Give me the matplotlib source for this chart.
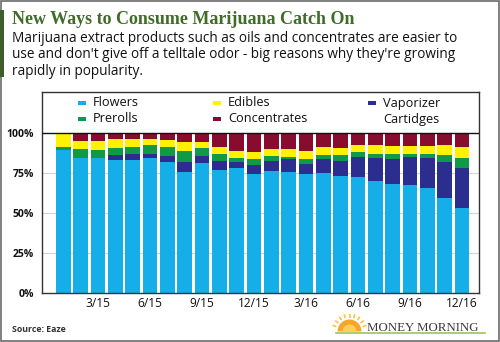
import matplotlib
matplotlib.use("Agg")
import matplotlib.pyplot as plt
import numpy as np
from matplotlib.patches import Rectangle, Wedge


months = ["1/15", "2/15", "3/15", "4/15", "5/15", "6/15", "7/15", "8/15",
          "9/15", "10/15", "11/15", "12/15", "1/16", "2/16", "3/16", "4/16",
          "5/16", "6/16", "7/16", "8/16", "9/16", "10/16", "11/16", "12/16"]
tick_labels = ["3/15", "6/15", "9/15", "12/15", "3/16", "6/16", "9/16", "12/16"]

# share of sales, percent (bottom to top of each stack)
flowers = [89.5, 84.5, 84.5, 83.3, 83.3, 84.2, 81.7, 75.8, 81.0, 76.9, 77.9, 74.2,
           76.2, 75.8, 74.2, 74.8, 73.3, 72.5, 70.2, 67.9, 67.5, 65.8, 59.2, 53.3]
vaporizer = [0.0, 0.0, 0.0, 3.0, 3.3, 2.9, 3.9, 6.3, 4.6, 5.8, 4.2, 5.8,
             6.3, 7.9, 6.6, 8.9, 9.2, 12.7, 14.0, 15.8, 17.5, 18.4, 22.9, 24.6]
prerolls = [1.5, 5.2, 5.0, 4.6, 4.6, 5.2, 5.4, 6.6, 4.8, 4.0, 2.5, 3.7,
            3.3, 1.5, 2.9, 2.5, 3.7, 3.1, 2.7, 2.9, 1.9, 2.5, 4.2, 6.2]
edibles = [9.0, 5.2, 5.5, 5.4, 5.0, 4.0, 4.8, 5.4, 3.8, 4.3, 4.4, 4.6,
           4.0, 4.6, 5.0, 5.0, 4.2, 4.2, 5.6, 5.4, 5.2, 5.4, 6.2, 6.9]
concentrates = [0.0, 5.1, 5.0, 3.7, 3.8, 3.7, 4.2, 5.9, 5.8, 9.0, 11.0, 11.7,
                10.2, 10.2, 11.3, 8.8, 9.6, 7.5, 7.5, 8.0, 7.9, 7.9, 7.5, 9.0]

FONT = "Open Sans"
BLUE = "#15aee9"
NAVY = "#2b2e8e"
GREEN = "#0f9a47"
YELLOW = "#fff200"
RED = "#880c2e"

series = [
    (flowers, BLUE),
    (vaporizer, NAVY),
    (prerolls, GREEN),
    (edibles, YELLOW),
    (concentrates, RED),
]

fig = plt.figure(figsize=(5, 3.42), dpi=100)
fig.patch.set_facecolor("white")

# main chart
ax = fig.add_axes([42 / 500, 1 - 293 / 342, 437 / 500, 201 / 342])
x = np.arange(len(months))
bottom = np.zeros(len(months))
for values, color in series:
    ax.bar(x, values, width=0.84, bottom=bottom, color=color, lw=0, zorder=2)
    bottom += np.array(values)

ax.set_xlim(-1.23, 23.98)
ax.set_ylim(0, 125.6)
ax.axhline(100, color="#111111", lw=1, zorder=3)
for g in [25, 50, 75]:
    ax.axhline(g, color="#d4d4d4", lw=0.8, zorder=1)

ax.set_yticks([0, 25, 50, 75, 100])
ax.set_yticklabels(["0%", "25%", "50%", "75%", "100%"], family=FONT,
                   fontweight="bold", fontsize=7.5, color="#111111")
ax.set_xticks([months.index(m) for m in tick_labels])
ax.set_xticklabels(tick_labels, family=FONT, fontsize=8.6, color="#111111")
ax.tick_params(length=0, axis="y", pad=6)
ax.tick_params(length=0, axis="x", pad=3)
for s in ax.spines.values():
    s.set_color("#333333")
    s.set_linewidth(1)

# transparent pixel canvas on top for the decorations around the chart
canvas = fig.add_axes([0, 0, 1, 1], zorder=5)
canvas.set_xlim(0, 500)
canvas.set_ylim(342, 0)
canvas.axis("off")

# outer frame and title accent
canvas.add_patch(Rectangle((0.5, 0.5), 498.5, 340.5, fill=False, ec="#6b6b6b", lw=1.2))
canvas.add_patch(Rectangle((0, 10), 3.5, 67, color="#3d5e2a", lw=0))

canvas.text(12, 24, "New Ways to Consume Marijuana Catch On", family="Liberation Serif",
            fontweight="bold", fontsize=13, color="#3f6d28", va="baseline")
subtitle = [
    "Marijuana extract products such as oils and concentrates are easier to",
    "use and don't give off a telltale odor - big reasons why they're growing",
    "rapidly in popularity.",
]
for i, line in enumerate(subtitle):
    canvas.text(12, 41.5 + i * 16.7, line, family=FONT, fontsize=9.85,
                color="#111111", va="baseline")

# legend
legend_items = [
    ("Flowers", BLUE, 78, 103),
    ("Prerolls", GREEN, 78, 119),
    ("Edibles", YELLOW, 213, 103),
    ("Concentrates", RED, 213, 119),
    ("Vaporizer", NAVY, 368, 103),
]
for label, color, lx, ly in legend_items:
    canvas.add_patch(Rectangle((lx, ly - 1.7), 8, 3.4, color=color, lw=0))
    canvas.text(lx + 15, ly, label, family=FONT, fontsize=9.2, color="#111111",
                va="center")
canvas.text(383, 119, "Cartidges", family=FONT, fontsize=9.2, color="#111111",
            va="center")

# footer
canvas.text(12, 330, "Source: Eaze", family=FONT, fontweight="bold", fontsize=6.3,
            color="#333333", va="center")

# Money Morning logo
canvas.plot([336, 485], [332.5, 332.5], color="#a3c86a", lw=1.3)
canvas.add_patch(Wedge((349.5, 331.5), 12, 180, 360, color="#f6a72a", lw=0))
canvas.add_patch(Wedge((349.5, 331.5), 7, 180, 360, color="#fbd05a", lw=0))
for ang in np.linspace(200, 340, 9):
    a = np.deg2rad(ang)
    canvas.plot([349.5 + 14 * np.cos(a), 349.5 + 18 * np.cos(a)],
                [331.5 + 14 * np.sin(a), 331.5 + 18 * np.sin(a)],
                color="#f7c43a", lw=1.2, solid_capstyle="butt")
canvas.text(367, 331, "MONEY MORNING", family="Liberation Serif", fontsize=9.3,
            color="#3a3a3a", va="baseline")

fig.savefig("out.png", dpi=100)
